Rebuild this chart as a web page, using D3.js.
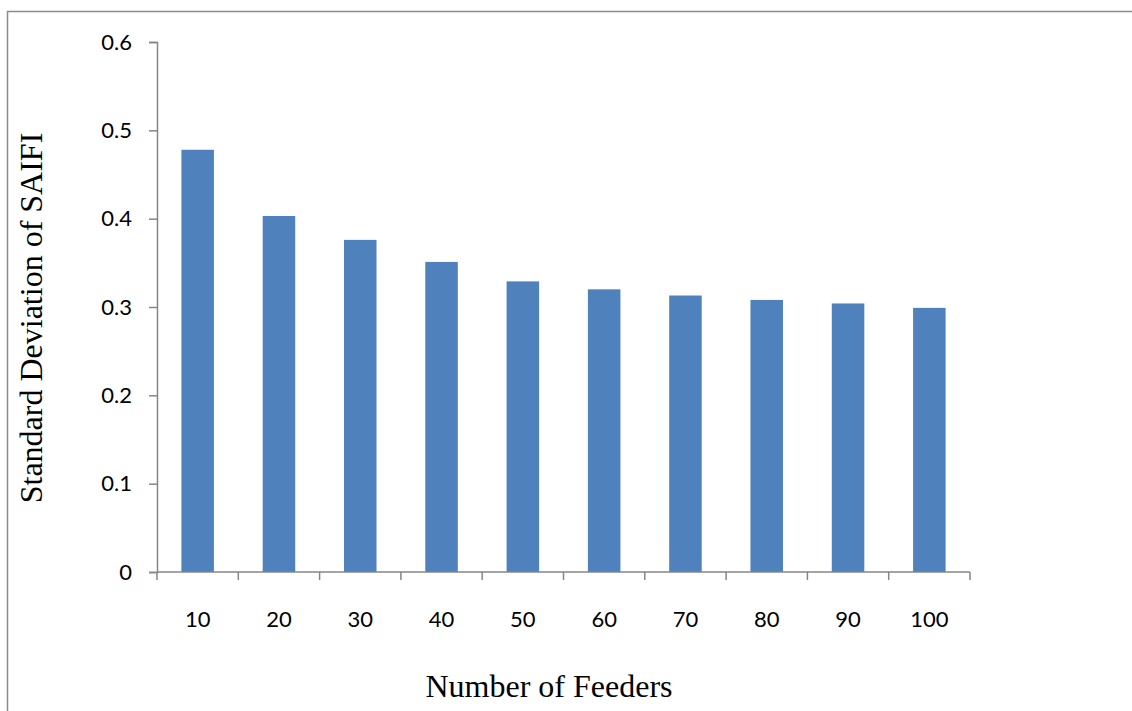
<!DOCTYPE html>
<html><head><meta charset="utf-8">
<script src="https://cdn.jsdelivr.net/npm/d3@7"></script>
<style>body{margin:0;background:#fff}</style>
</head><body>
<svg id="c" width="1132" height="711"></svg>
<script>
const categories = ["10","20","30","40","50","60","70","80","90","100"];
const values = [0.478,0.403,0.376,0.351,0.329,0.320,0.313,0.308,0.304,0.299];
const yTicks = [0,0.1,0.2,0.3,0.4,0.5,0.6];
const yTickLabels = ["0","0.1","0.2","0.3","0.4","0.5","0.6"];

const svg = d3.select("#c");
const m = {left:157, right:970, top:42, bottom:572};
// outer border
svg.append("path").attr("d","M7.5,711 V11.5 H1132").attr("fill","none").attr("stroke","#8c8c8c").attr("stroke-width",1.5);

const x = d3.scaleBand().domain(categories).range([m.left,m.right]).paddingInner(0.6).paddingOuter(0.3);
const y = d3.scaleLinear().domain([0,0.6]).range([m.bottom,m.top]);

svg.append("g").selectAll("rect").data(values).join("rect")
  .attr("x",(d,i)=>x(categories[i])).attr("width",x.bandwidth())
  .attr("y",d=>y(d)).attr("height",d=>y(0)-y(d)).attr("fill","#4F81BD");

const yAxis = svg.append("g").attr("transform",`translate(${m.left},0)`)
  .call(d3.axisLeft(y).tickValues(yTicks).tickFormat((d,i)=>yTickLabels[i]).tickSize(8).tickPadding(17));
const xb = d3.scaleBand().domain(categories).range([m.left,m.right]);
const xAxis = svg.append("g").attr("transform",`translate(0,${m.bottom})`)
  .call(d3.axisBottom(xb).tickSize(0).tickPadding(39.5));
// boundary ticks
const edges = d3.range(categories.length+1).map(i=>m.left + i*xb.step());
xAxis.selectAll("line.edge").data(edges).join("line").attr("class","edge")
  .attr("x1",d=>d).attr("x2",d=>d).attr("y1",0).attr("y2",8);
[yAxis,xAxis].forEach(g=>{
  g.selectAll("path.domain").attr("stroke","#868686").attr("stroke-width",1.5);
  g.selectAll("line").attr("stroke","#868686").attr("stroke-width",1.5);
  g.selectAll("text").attr("font-family","Lato, 'Open Sans', sans-serif").attr("font-size",22).attr("fill","#000");
});
xAxis.select("path.domain").attr("d",`M${m.left},0H${m.right}`);

svg.append("text").attr("x",549).attr("y",697).attr("text-anchor","middle")
  .attr("font-family","'Liberation Serif', 'Times New Roman', serif").attr("font-size",32).text("Number of Feeders");
svg.append("text").attr("transform","translate(42,318) rotate(-90)").attr("text-anchor","middle")
  .attr("font-family","'Liberation Serif', 'Times New Roman', serif").attr("font-size",32).text("Standard Deviation of SAIFI");
</script>
</body></html>
